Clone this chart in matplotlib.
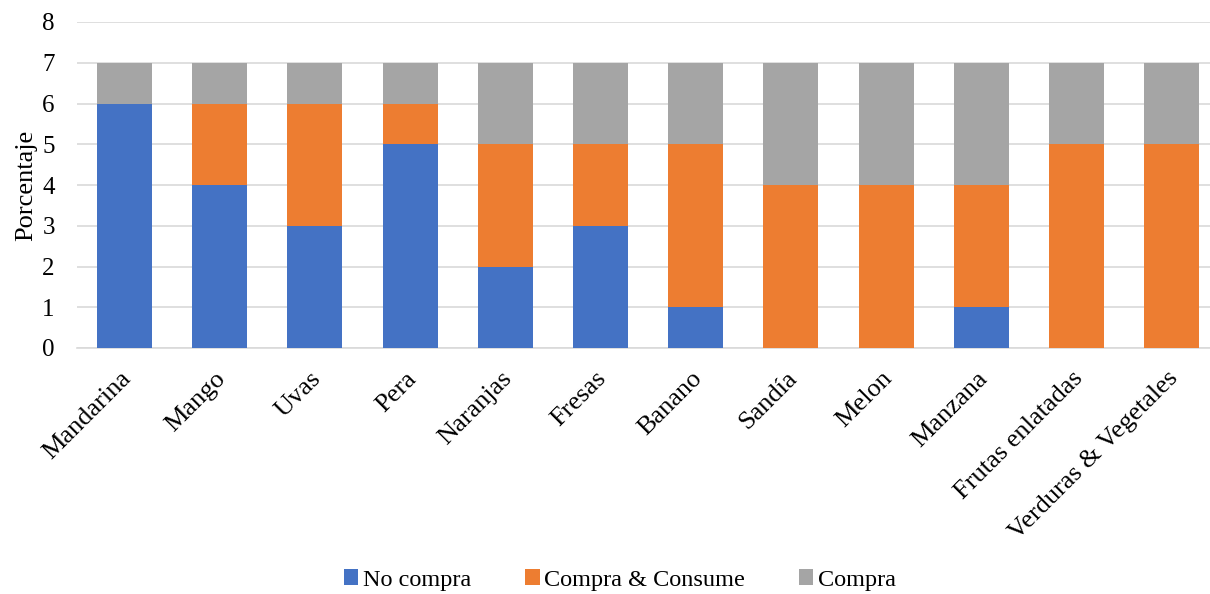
import numpy as np
import matplotlib.pyplot as plt
import matplotlib.transforms as mtrans

plt.rcParams['font.family'] = ['Liberation Serif', 'DejaVu Serif']

frutas = ['Mandarina', 'Mango', 'Uvas', 'Pera', 'Naranjas', 'Fresas', 'Banano',
          'Sandía', 'Melon', 'Manzana', 'Frutas enlatadas', 'Verduras & Vegetales']
no_compra = [6, 4, 3, 5, 2, 3, 1, 0, 0, 1, 0, 0]
compra_consume = [0, 2, 3, 1, 3, 2, 4, 4, 4, 3, 5, 5]
compra = [1, 1, 1, 1, 2, 2, 2, 3, 3, 3, 2, 2]

colores = ['#4472C4', '#ED7D31', '#A5A5A5']

fig = plt.figure(figsize=(12.1, 5.94), dpi=100)
ax = fig.add_axes([77 / 1210, 1 - 348 / 594, 1 - 77 / 1210, (348 - 22) / 594])

x = np.arange(len(frutas))
a = np.array(no_compra)
b = np.array(compra_consume)
c = np.array(compra)
ancho = 0.578
ax.bar(x, a, ancho, color=colores[0], label='No compra', zorder=3)
ax.bar(x, b, ancho, bottom=a, color=colores[1], label='Compra & Consume', zorder=3)
ax.bar(x, c, ancho, bottom=a + b, color=colores[2], label='Compra', zorder=3)

ax.set_xlim(-0.5, 11.404)
ax.set_ylim(0, 8)
ax.set_yticks(range(0, 9))
ax.yaxis.grid(True, color='#D9D9D9', linewidth=1.2, zorder=0)
for s in ['top', 'right', 'left']:
    ax.spines[s].set_visible(False)
ax.spines['bottom'].set_color('#D9D9D9')
ax.spines['bottom'].set_linewidth(1.2)
ax.tick_params(axis='both', length=0, colors='black')
ax.tick_params(axis='y', labelsize=18, pad=16)
ax.tick_params(axis='x', labelsize=19, pad=14)
ax.set_xticks(x)
ax.set_xticklabels(frutas, rotation=45, ha='right', rotation_mode='anchor')
# correr un poco las etiquetas rotadas hacia la izquierda
desplaza = mtrans.ScaledTranslation(-5 / 100, 0, fig.dpi_scale_trans)
for lab in ax.get_xticklabels():
    lab.set_transform(lab.get_transform() + desplaza)
ax.set_ylabel('Porcentaje', fontsize=19, labelpad=4)

fig.legend(loc='center', bbox_to_anchor=(620 / 1210, 1 - 580 / 594), ncol=3, frameon=False,
           fontsize=17.5, handlelength=0.6, handleheight=0.6, handletextpad=0.2,
           columnspacing=2.2)

fig.savefig('out.png', dpi=100)
